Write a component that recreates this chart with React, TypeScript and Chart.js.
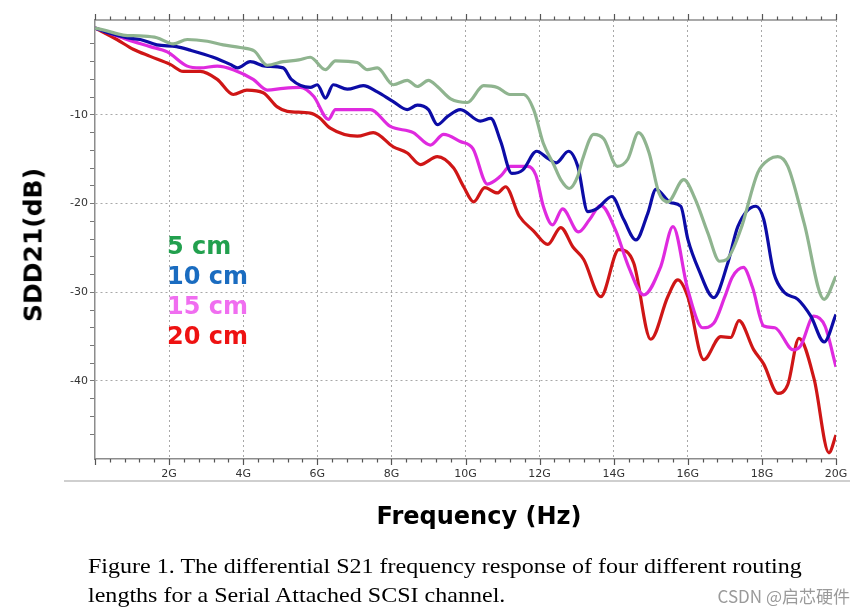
import React, { useEffect, useRef } from "react";
import { Chart, registerables } from "chart.js";

Chart.register(...registerables);

// ---- data (frequency in GHz, SDD21 in dB) ----
const SERIES_LABELS = ["5 cm", "10 cm", "15 cm", "20 cm"];

const FREQ_5 = [0, 0.3, 0.76, 1.2, 1.67, 2.11, 2.49, 3.03, 3.46, 3.92, 4.3, 4.65, 5.08, 5.5, 5.81, 6.22, 6.49, 7.08, 7.35, 7.62, 8.05, 8.43, 8.7, 9.0, 9.24, 9.6, 10.05, 10.49, 10.86, 11.2, 11.57, 11.84, 12.1, 12.38, 12.57, 12.8, 13.03, 13.16, 13.46, 13.73, 14.1, 14.38, 14.67, 14.95, 15.22, 15.46, 15.89, 16.2, 16.54, 16.86, 17.05, 17.43, 17.89, 18.2, 18.43, 18.7, 19.14, 19.68, 20.0];
const DB_5 = [-0.2, -0.5, -1.0, -1.1, -1.3, -2.0, -1.5, -1.7, -2.1, -2.4, -2.8, -4.4, -4.0, -3.8, -3.5, -4.9, -3.9, -4.1, -4.9, -4.7, -6.6, -6.1, -6.8, -6.1, -6.8, -8.2, -8.6, -6.7, -6.9, -7.7, -7.7, -9.4, -13.2, -15.6, -17.3, -18.3, -16.9, -15.0, -12.2, -12.7, -15.8, -15.0, -12.0, -14.2, -18.8, -19.8, -17.3, -19.5, -23.3, -26.5, -26.3, -22.9, -16.5, -15.0, -14.7, -15.8, -22.2, -30.8, -28.2];

const FREQ_10 = [0, 0.4, 0.86, 1.22, 1.67, 2.2, 2.57, 3.19, 3.65, 3.85, 4.19, 4.6, 5.08, 5.3, 5.81, 6.0, 6.22, 6.43, 6.81, 7.24, 7.62, 8.05, 8.43, 8.7, 9.0, 9.24, 9.51, 9.86, 10.4, 10.68, 10.95, 11.25, 11.55, 11.92, 12.22, 12.45, 12.78, 13.03, 13.3, 13.57, 13.95, 14.27, 14.6, 14.92, 15.14, 15.54, 15.81, 16.0, 16.3, 16.7, 17.08, 17.35, 17.84, 18.05, 18.32, 18.6, 18.97, 19.32, 19.68, 20.0];
const DB_10 = [-0.2, -0.8, -1.3, -1.5, -2.1, -2.3, -2.7, -3.5, -4.3, -4.7, -4.0, -4.5, -4.7, -6.0, -6.9, -6.6, -8.1, -6.6, -7.1, -6.7, -7.4, -8.5, -9.4, -8.9, -9.4, -11.1, -10.2, -9.4, -10.7, -10.4, -13.0, -16.6, -16.2, -14.1, -14.9, -15.4, -14.1, -15.8, -20.9, -20.5, -19.2, -21.8, -24.1, -21.1, -18.4, -19.9, -20.3, -24.0, -27.5, -30.6, -26.7, -22.6, -20.3, -21.8, -27.8, -30.0, -30.8, -32.7, -35.6, -32.5];

const FREQ_15 = [0, 0.4, 0.86, 1.49, 1.95, 2.49, 2.84, 3.3, 3.73, 4.27, 4.65, 5.08, 5.54, 5.9, 6.3, 6.49, 6.97, 7.43, 7.97, 8.59, 9.05, 9.41, 9.86, 10.2, 10.59, 10.95, 11.2, 11.68, 11.9, 12.1, 12.35, 12.62, 13.05, 13.35, 13.65, 14.05, 14.4, 14.81, 15.27, 15.6, 16.0, 16.4, 16.7, 17.0, 17.2, 17.5, 17.75, 18.05, 18.35, 18.85, 19.05, 19.4, 19.7, 20.0];
const DB_15 = [-0.2, -0.8, -1.5, -2.3, -2.9, -4.5, -4.7, -4.5, -4.9, -6.0, -7.2, -7.0, -6.9, -7.9, -10.5, -9.4, -9.4, -9.4, -11.3, -12.0, -13.4, -12.2, -13.0, -13.8, -17.8, -16.9, -15.8, -15.8, -16.8, -20.3, -22.4, -20.6, -23.2, -21.8, -20.2, -23.0, -27.1, -30.3, -27.1, -22.6, -29.7, -34.0, -33.5, -30.5, -28.3, -27.2, -29.5, -33.8, -34.0, -36.5, -36.0, -32.7, -33.8, -38.4];

const FREQ_20 = [0, 0.59, 1.03, 1.49, 2.03, 2.38, 2.84, 3.3, 3.73, 4.1, 4.54, 4.92, 5.19, 5.81, 6.05, 6.35, 7.08, 7.51, 8.05, 8.43, 8.78, 9.24, 9.68, 9.95, 10.22, 10.52, 10.86, 11.08, 11.45, 11.84, 12.22, 12.57, 12.9, 13.19, 13.65, 14.14, 14.54, 15.0, 15.46, 15.73, 16.0, 16.43, 16.89, 17.16, 17.38, 17.78, 18.05, 18.43, 18.7, 19.0, 19.41, 19.81, 20.0];
const DB_20 = [-0.2, -1.5, -2.6, -3.4, -4.3, -5.1, -5.1, -6.0, -7.7, -7.2, -7.5, -9.1, -9.6, -9.8, -10.3, -11.5, -12.4, -12.0, -13.6, -14.3, -15.6, -14.7, -16.0, -18.1, -19.8, -18.2, -18.8, -18.1, -21.4, -23.1, -24.6, -22.7, -24.9, -26.3, -30.5, -25.2, -26.7, -35.3, -30.5, -28.6, -30.5, -37.6, -35.0, -35.1, -33.2, -36.5, -38.1, -41.4, -40.4, -35.2, -39.8, -48.1, -46.1];

const X_MIN = 0;
const X_MAX = 20;
const X_MINOR_STEP = 0.4;
const X_MAJOR_STEP = 2;
const Y_MIN = -48.8;
const Y_MAX = 0.7;
const Y_MINOR_STEP = 2;
const Y_MAJOR_TICKS = [-10, -20, -30, -40];

const LINE_COLORS = ["#8fb48f", "#0c0ca6", "#df2adf", "#cf1616"];
const TEXT_COLORS = ["#22a04e", "#1a6cc0", "#f06ef0", "#ee1212"];

const CAPTION_LINES = [
  "Figure 1. The differential S21 frequency response of four different routing",
  "lengths for a Serial Attached SCSI channel.",
];

const isMajorX = (v: number) => Math.round(v * 10) % Math.round(X_MAJOR_STEP * 10) === 0;

const frameTicks = {
  id: "frameTicks",
  afterDraw(chart: any) {
    const { ctx, chartArea: a, scales } = chart;
    const xs = scales.x;
    ctx.save();
    ctx.strokeStyle = "#8c8c8c";
    ctx.lineWidth = 1.5;
    ctx.beginPath();
    ctx.moveTo(a.left, a.top);
    ctx.lineTo(a.right, a.top);
    ctx.stroke();
    ctx.strokeStyle = "#555";
    ctx.lineWidth = 1.2;
    xs.ticks.forEach((t: any) => {
      const px = Math.round(xs.getPixelForValue(t.value)) + 0.5;
      const len = isMajorX(t.value) ? 6 : 3.5;
      ctx.beginPath();
      ctx.moveTo(px, a.bottom);
      ctx.lineTo(px, a.bottom + len);
      ctx.moveTo(px, a.top);
      ctx.lineTo(px, a.top - len);
      ctx.stroke();
    });
    ctx.restore();
  },
};

const pairs = (xs: number[], ys: number[]) => xs.map((x, i) => ({ x, y: ys[i] }));

export default function App() {
  const ref = useRef<HTMLCanvasElement>(null);

  useEffect(() => {
    if (!ref.current) return;
    const seriesX = [FREQ_5, FREQ_10, FREQ_15, FREQ_20];
    const seriesY = [DB_5, DB_10, DB_15, DB_20];
    const chart = new Chart(ref.current, {
      type: "line",
      data: {
        datasets: SERIES_LABELS.map((label, i) => ({
          label,
          data: pairs(seriesX[i], seriesY[i]),
          borderColor: LINE_COLORS[i],
          backgroundColor: LINE_COLORS[i],
          borderWidth: 3.2,
          pointRadius: 0,
          cubicInterpolationMode: "monotone" as const,
          fill: false,
        })),
      },
      options: {
        animation: false,
        responsive: false,
        maintainAspectRatio: false,
        layout: { padding: { left: 0, right: 29, top: 20, bottom: 127 } },
        plugins: { legend: { display: false }, tooltip: { enabled: false } },
        scales: {
          x: {
            type: "linear",
            min: X_MIN,
            max: X_MAX,
            afterFit: (s: any) => { s.height = 25; },
            ticks: {
              stepSize: X_MINOR_STEP,
              autoSkip: false,
              maxRotation: 0,
              padding: 9,
              color: "#333",
              font: { family: "DejaVu Sans", size: 11 },
              callback: (v: any) => (v > 0 && isMajorX(Number(v)) ? `${Math.round(Number(v))}G` : ""),
            },
            grid: {
              drawTicks: false,
              lineWidth: 1,
              color: (c: any) => (c.tick && c.tick.value > 0 && isMajorX(c.tick.value) ? "#a8a8a8" : "rgba(0,0,0,0)"),
            },
            border: { display: true, color: "#8c8c8c", width: 1.5, dash: [2, 3] },
          },
          y: {
            type: "linear",
            min: Y_MIN,
            max: Y_MAX,
            afterFit: (s: any) => { s.width = 95; },
            ticks: {
              stepSize: Y_MINOR_STEP,
              autoSkip: false,
              padding: 2,
              color: "#333",
              font: { family: "DejaVu Sans", size: 11 },
              callback: (v: any) => (Y_MAJOR_TICKS.includes(Number(v)) ? String(v) : ""),
            },
            grid: {
              drawTicks: true,
              tickLength: 5,
              tickWidth: 1,
              lineWidth: 1,
              color: (c: any) => (c.tick && Y_MAJOR_TICKS.includes(c.tick.value) ? "#a8a8a8" : "rgba(0,0,0,0)"),
              tickColor: (c: any) => (c.tick && Number.isInteger(c.tick.value) ? "#777" : "rgba(0,0,0,0)"),
            },
            border: { display: true, color: "#8c8c8c", width: 1.5, dash: [2, 3] },
          },
        },
      },
      plugins: [frameTicks],
    });
    return () => chart.destroy();
  }, []);

  const legendTop = [232, 262, 292, 322];

  return (
    <div style={{ position: "absolute", left: 0, top: 0, width: 865, height: 611, background: "#fff", overflow: "hidden" }}>
      <canvas ref={ref} width={865} height={611} style={{ position: "absolute", left: 0, top: 0, width: 865, height: 611 }} />
      {SERIES_LABELS.map((t, i) => (
        <div key={t} style={{ position: "absolute", left: 167, top: legendTop[i], lineHeight: "30px", font: "bold 24px 'DejaVu Sans'", color: TEXT_COLORS[i], whiteSpace: "nowrap" }}>{t}</div>
      ))}
      <div style={{ position: "absolute", left: 33, top: 245, transform: "translate(-50%, -50%) rotate(-90deg)", font: "bold 25px 'DejaVu Sans'", color: "#000", whiteSpace: "nowrap" }}>SDD21(dB)</div>
      <div style={{ position: "absolute", left: 64, top: 480, width: 786, height: 2, background: "#cfcfcf" }} />
      <div style={{ position: "absolute", left: 479, top: 516, transform: "translate(-50%, -50%)", font: "bold 24px 'DejaVu Sans'", color: "#000", whiteSpace: "nowrap" }}>Frequency (Hz)</div>
      <div style={{ position: "absolute", left: 88, top: 552, font: "21px 'Liberation Serif'", lineHeight: "29px", color: "#000", whiteSpace: "nowrap", transform: "scaleX(1.145)", transformOrigin: "left top" }}>
        {CAPTION_LINES.map((l) => (<div key={l}>{l}</div>))}
      </div>
      <div style={{ position: "absolute", right: 15, top: 583, font: "17px 'Noto Sans CJK SC', 'DejaVu Sans'", color: "#9a9a9a", whiteSpace: "nowrap" }}>CSDN @启芯硬件</div>
    </div>
  );
}
